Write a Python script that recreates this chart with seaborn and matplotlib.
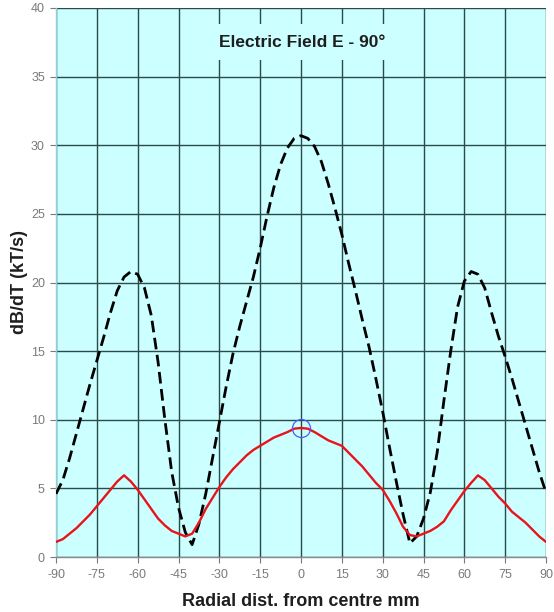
import matplotlib
matplotlib.use("Agg")
import matplotlib.pyplot as plt
import numpy as np
import pandas as pd
import seaborn as sns

# Radial positions (mm) and dB/dT values (kT/s)
radial_mm = [-90, -87.5, -85, -82.5, -80, -77.5, -75, -72.5, -70, -67.5, -65, -62.5,
             -60, -57.5, -55, -52.5, -50, -47.5, -45, -42.5, -40, -37.5, -35, -32.5,
             -30, -27.5, -25, -22.5, -20, -17.5, -15, -12.5, -10, -7.5, -5, -2.5,
             0, 2.5, 5, 7.5, 10, 12.5, 15, 17.5, 20, 22.5, 25, 27.5,
             30, 32.5, 35, 37.5, 40, 42.5, 45, 47.5, 50, 52.5, 55, 57.5,
             60, 62.5, 65, 67.5, 70, 72.5, 75, 77.5, 80, 82.5, 85, 87.5, 90]

dbdt_dashed = [4.6, 5.6, 7.2, 9.0, 10.8, 12.6, 14.3, 16.0, 17.8, 19.4, 20.4, 20.8,
               20.6, 19.6, 17.6, 14.2, 10.0, 6.2, 3.6, 1.8, 0.9, 2.4, 4.6, 7.2,
               9.8, 12.4, 14.8, 16.8, 18.6, 20.4, 22.5, 24.8, 26.9, 28.6, 29.8, 30.5,
               30.7, 30.5, 29.9, 28.8, 27.2, 25.4, 23.5, 21.4, 19.4, 17.3, 15.3, 13.0,
               10.6, 8.0, 5.5, 3.1, 1.0, 1.5, 2.8, 4.7, 7.6, 11.4, 15.0, 18.2,
               20.1, 20.8, 20.6, 19.6, 17.8, 16.1, 14.6, 13.0, 11.3, 9.6, 7.9, 6.2, 4.7]

dbdt_solid = [1.1, 1.3, 1.7, 2.1, 2.6, 3.1, 3.7, 4.3, 4.9, 5.5, 5.95, 5.5,
              4.9, 4.2, 3.5, 2.8, 2.3, 1.9, 1.7, 1.5, 1.7, 2.5, 3.5, 4.3,
              5.1, 5.8, 6.4, 6.9, 7.4, 7.8, 8.1, 8.4, 8.7, 8.9, 9.1, 9.35,
              9.4, 9.35, 9.1, 8.8, 8.5, 8.3, 8.1, 7.6, 7.1, 6.6, 6.0, 5.4,
              4.9, 4.1, 3.2, 2.2, 1.6, 1.5, 1.7, 1.9, 2.2, 2.6, 3.4, 4.1,
              4.8, 5.4, 5.95, 5.6, 5.0, 4.4, 3.9, 3.3, 2.9, 2.5, 2.0, 1.5, 1.1]

centre_x = [0]
centre_y = [9.4]

x_ticks = [-90, -75, -60, -45, -30, -15, 0, 15, 30, 45, 60, 75, 90]
y_ticks = [0, 5, 10, 15, 20, 25, 30, 35, 40]

title_text = "Electric Field E - 90°"
x_label = "Radial dist. from centre mm"
y_label = "dB/dT (kT/s)"

sns.set_theme(style="ticks")
plt.rcParams["font.family"] = ["Liberation Sans", "DejaVu Sans"]

bg = "#ccffff"
grid_col = "#2b4a4a"
tick_col = "#7a7a7a"

df = pd.DataFrame({"x": radial_mm, "dashed": dbdt_dashed, "solid": dbdt_solid})

fig = plt.figure(figsize=(5.54, 6.12), dpi=100)
ax = fig.add_axes([56 / 554, 1 - 557 / 612, 490 / 554, 549 / 612])
ax.set_facecolor(bg)

sns.lineplot(data=df, x="x", y="dashed", ax=ax, color="black", linewidth=2.0,
             linestyle=(0, (4.2, 2.0)), zorder=3)
sns.lineplot(data=df, x="x", y="solid", ax=ax, color="#e8141c", linewidth=1.7, zorder=4)
ax.plot(centre_x, centre_y, marker="o", markersize=13, markerfacecolor="none",
        markeredgecolor="#4a5cff", markeredgewidth=0.9, linestyle="none", zorder=5)

ax.set_xlim(-90, 90)
ax.set_ylim(0, 40)
ax.set_xticks(x_ticks)
ax.set_yticks(y_ticks)
ax.set_xticklabels([str(v) for v in x_ticks])
ax.set_yticklabels([str(v) for v in y_ticks])
ax.grid(True, color=grid_col, linewidth=1.0)
ax.set_axisbelow(True)

ax.tick_params(axis="both", colors=tick_col, labelcolor=tick_col, labelsize=9,
               length=4, width=0.8, direction="out")
ax.tick_params(axis="x", pad=5)
ax.tick_params(axis="y", pad=4)

for side in ("top", "right"):
    ax.spines[side].set_visible(False)
ax.spines["left"].set_color("#8fcfd6")
ax.spines["left"].set_linewidth(1.0)
ax.spines["bottom"].set_color("#8a8a8a")
ax.spines["bottom"].set_linewidth(1.0)

ax.set_xlabel(x_label, fontsize=13, fontweight="bold", color="#1e1e1e", labelpad=8)
ax.set_ylabel(y_label, fontsize=13, fontweight="bold", color="#1e1e1e", labelpad=2)

ax.text(0.4, 37.5, title_text, ha="center", va="center", fontsize=12.5,
        fontweight="bold", color="#1e1e1e", zorder=6,
        bbox=dict(boxstyle="square,pad=0.6", facecolor=bg, edgecolor="none"))

fig.savefig("out.png", dpi=100)
